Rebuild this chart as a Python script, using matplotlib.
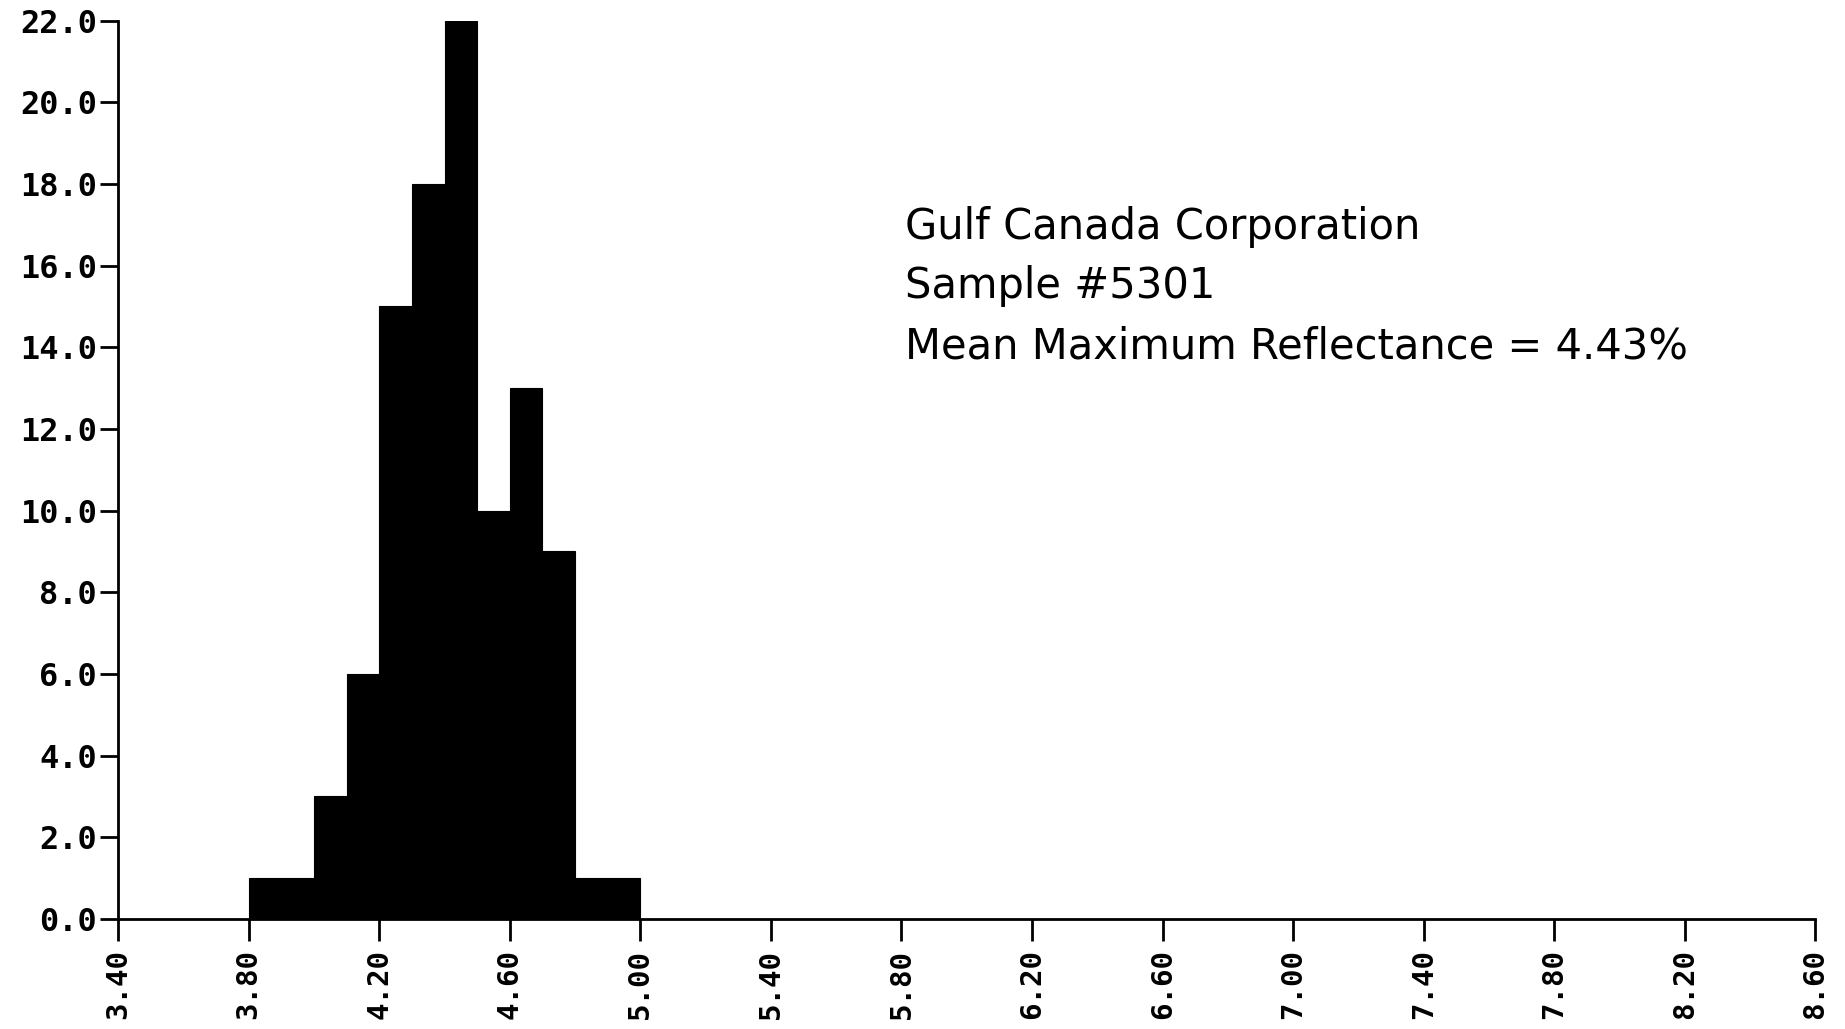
import matplotlib
matplotlib.use("Agg")
import matplotlib.pyplot as plt
import numpy as np

bin_left = [3.8, 3.9, 4.0, 4.1, 4.2, 4.3, 4.4, 4.5, 4.6, 4.7, 4.8, 4.9]
counts = [1, 1, 3, 6, 15, 18, 22, 10, 13, 9, 1, 1]
bin_width = 0.1
x_ticks = [3.4, 3.8, 4.2, 4.6, 5.0, 5.4, 5.8, 6.2, 6.6, 7.0, 7.4, 7.8, 8.2, 8.6]
y_ticks = [0, 2, 4, 6, 8, 10, 12, 14, 16, 18, 20, 22]
annot = ["Gulf Canada Corporation", "Sample #5301", "Mean Maximum Reflectance = 4.43%"]

fig = plt.figure(figsize=(18.45, 10.29), dpi=100)
ax = fig.add_axes([0.064, 0.107, 0.920, 0.873])
ax.bar(bin_left, counts, width=bin_width, align="edge", color="black",
       edgecolor="black", linewidth=0.8)
ax.set_xlim(3.4, 8.6)
ax.set_ylim(0, 22)
ax.set_xticks(x_ticks)
ax.set_xticklabels([f"{v:.2f}" for v in x_ticks], rotation=90)
ax.set_yticks(y_ticks)
ax.set_yticklabels([f"{v:.1f}" for v in y_ticks])
for s in ["top", "right"]:
    ax.spines[s].set_visible(False)
for s in ["left", "bottom"]:
    ax.spines[s].set_linewidth(2)
ax.tick_params(axis="both", direction="out", width=2, length=14, color="black")
ax.tick_params(axis="x", length=16, pad=6)
ax.tick_params(axis="y", length=13, pad=2)
for lab in ax.get_xticklabels():
    lab.set_fontfamily("DejaVu Sans Mono")
    lab.set_fontweight("bold")
    lab.set_fontsize(21)
for lab in ax.get_yticklabels():
    lab.set_fontfamily("DejaVu Sans Mono")
    lab.set_fontweight("bold")
    lab.set_fontsize(23)

ys = [0.768, 0.710, 0.652]
for t, y in zip(annot, ys):
    fig.text(0.4905, y, t, fontsize=30, family="DejaVu Sans", va="baseline", ha="left")

fig.savefig("out.png", dpi=100, facecolor="white")
